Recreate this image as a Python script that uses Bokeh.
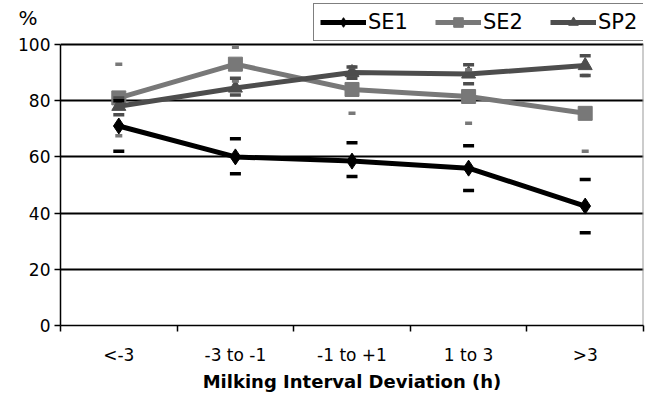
from bokeh.plotting import figure
from bokeh.models import (Range1d, FixedTicker, Legend, LegendItem, LinearAxis)
from bokeh.embed import file_html
from bokeh.resources import INLINE

categories = ["<-3", "-3 to -1", "-1 to +1", "1 to 3", ">3"]
se1 = [71, 60, 58.5, 56, 42.5]
se1_hi = [80, 66.5, 65, 64, 52]
se1_lo = [62, 54, 53, 48, 33]
se2 = [81, 93, 84, 81.5, 75.5]
se2_hi = [93, 99, 92, 91, 89]
se2_lo = [67.5, 87, 75.5, 72, 62]
sp2 = [78, 84.5, 90, 89.5, 92.5]
sp2_hi = [81, 88, 92, 92.8, 96]
sp2_lo = [75, 82, 88, 86, 89]
y_ticks = [0, 20, 40, 60, 80, 100]
unit_label = "%"

xs = [i + 0.5 for i in range(len(categories))]
bounds = list(range(len(categories) + 1))
Y_MAX = y_ticks[-1]

# layout (pixels)
W, H = 647, 397
LEFT, RIGHT, BOTTOM = 60, 4, 72
FRAME_H = H - BOTTOM          # frame spans from canvas top to x axis
TOP_PAD = 44                  # room above the 100 line for legend / "%"
y_top = Y_MAX * FRAME_H / (FRAME_H - TOP_PAD)
px_per_unit = (FRAME_H - TOP_PAD) / Y_MAX

C_SE1 = "#000000"
C_SE2 = "#787878"
C_SP2 = "#4d4d4d"
FONT = "DejaVu Sans"

p = figure(width=W, height=H, output_backend="svg", toolbar_location=None,
           x_range=Range1d(0, len(categories)), y_range=Range1d(0, y_top),
           min_border_left=LEFT, min_border_right=RIGHT, min_border_top=0,
           min_border_bottom=BOTTOM)
p.background_fill_color = "white"
p.border_fill_color = "white"
p.outline_line_color = None

# x axis
xa = p.xaxis[0]
xa.ticker = FixedTicker(ticks=xs, minor_ticks=bounds)
xa.major_label_overrides = {x: c for x, c in zip(xs, categories)}
xa.major_tick_out = 0
xa.major_tick_in = 0
xa.minor_tick_out = 6
xa.minor_tick_in = 0
xa.minor_tick_line_color = "black"
xa.minor_tick_line_width = 1.5
xa.axis_line_color = "black"
xa.axis_line_width = 1.5
xa.major_label_text_font = FONT
xa.major_label_text_font_size = "17px"
xa.major_label_text_color = "black"
xa.major_label_standoff = 13
xa.axis_label = "Milking Interval Deviation (h)"
xa.axis_label_text_font = FONT
xa.axis_label_text_font_style = "bold"
xa.axis_label_text_font_size = "18px"
xa.axis_label_text_color = "black"
xa.axis_label_standoff = 3

# y axis
ya = p.yaxis[0]
ya.ticker = FixedTicker(ticks=y_ticks, minor_ticks=[])
ya.bounds = (0, Y_MAX)
ya.major_tick_out = 6
ya.major_tick_in = 0
ya.major_tick_line_color = "black"
ya.major_tick_line_width = 1.5
ya.axis_line_color = "black"
ya.axis_line_width = 1.5
ya.major_label_text_font = FONT
ya.major_label_text_font_size = "17px"
ya.major_label_text_color = "black"
ya.major_label_standoff = 4

# "%" unit label, drawn as the single tick label of an outer helper axis
pct_pos = round(Y_MAX + (TOP_PAD - 17) / px_per_unit, 1)
pa = LinearAxis(ticker=FixedTicker(ticks=[pct_pos], minor_ticks=[]),
                major_label_overrides={pct_pos: unit_label},
                axis_line_color=None, major_tick_line_color=None,
                minor_tick_line_color=None, major_tick_out=0, major_tick_in=0,
                minor_tick_out=0, minor_tick_in=0,
                major_label_standoff=-22,
                major_label_text_font=FONT, major_label_text_font_size="20px",
                major_label_text_color="black")
p.add_layout(pa, "left")

p.xgrid.visible = False
p.ygrid.ticker = FixedTicker(ticks=y_ticks[1:])
p.ygrid.grid_line_color = "black"
p.ygrid.grid_line_width = 2
p.ygrid.grid_line_alpha = 1

# right border of the plot area (grey)
p.segment(x0=[len(categories)], y0=[0], x1=[len(categories)], y1=[Y_MAX],
          line_color="#999999", line_width=2)

# series
def series(vals, color, marker, msize):
    ln = p.line(xs, vals, line_color=color, line_width=5)
    mk = p.scatter(xs, vals, marker=marker, size=msize, fill_color=color,
                   line_color=color)
    return [ln, mk]

r_se1 = series(se1, C_SE1, "diamond", 16)
r_se2 = series(se2, C_SE2, "square", 14)
r_sp2 = series(sp2, C_SP2, "triangle", 14)

# error-bar caps
def caps(vals, color, size):
    p.scatter(xs, vals, marker="dash", size=size, line_color=color,
              line_width=3.5)

caps(se2_hi, C_SE2, 7)
caps(se2_lo, C_SE2, 7)
caps(sp2_hi, C_SP2, 11)
caps(sp2_lo, C_SP2, 11)
caps(se1_hi, C_SE1, 11)
caps(se1_lo, C_SE1, 11)

legend = Legend(items=[LegendItem(label="SE1", renderers=r_se1),
                       LegendItem(label="SE2", renderers=r_se2),
                       LegendItem(label="SP2", renderers=r_sp2)],
                orientation="horizontal", location=(253, FRAME_H - 41))
legend.margin = 0
legend.padding = 6
legend.spacing = 27
legend.glyph_width = 46
legend.glyph_height = 24
legend.label_standoff = 2
legend.label_text_font = FONT
legend.label_text_font_size = "21px"
legend.label_text_color = "black"
legend.border_line_color = "black"
legend.border_line_width = 1
legend.background_fill_color = "white"
p.add_layout(legend)

open("out.html", "w").write(file_html(p, INLINE))
